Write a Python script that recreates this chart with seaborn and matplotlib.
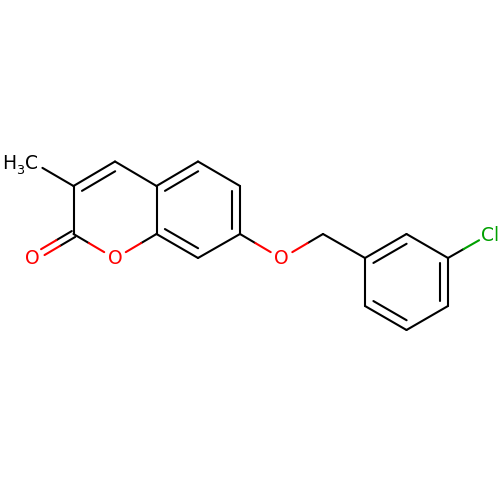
import numpy as np
import pandas as pd
import matplotlib
matplotlib.use("Agg")
import matplotlib.pyplot as plt
import seaborn as sns

# Atoms: 2D depiction coordinates of the molecule
atom_names = ["CH3", "C3", "C4", "C4a", "C5", "C6", "C7", "C8", "C8a", "O1", "C2", "O2",
              "O7", "CH2", "C1p", "C2p", "C3p", "C4p", "C5p", "C6p", "Cl"]
atom_x = [31.5, 73.5, 115, 156.5, 198, 240, 240, 198, 156.5, 115, 73.5, 32,
          281.5, 323, 365, 406.5, 448, 448, 406.5, 365, 490]
atom_y = [161.5, 186, 161.5, 186, 161.5, 186, 234, 258, 234, 258.5, 234, 258.5,
          258.5, 234, 258, 234, 258, 306, 330, 306, 234]

single_bonds = [("CH3", "C3"), ("C3", "C2"), ("C4", "C4a"), ("C4a", "C8a"), ("C5", "C6"),
                ("C7", "C8"), ("C8a", "O1"), ("O1", "C2"), ("C7", "O7"), ("O7", "CH2"),
                ("CH2", "C1p"), ("C2p", "C3p"), ("C4p", "C5p"), ("C6p", "C1p"), ("C3p", "Cl")]
ring_double_bonds = [("C3", "C4"), ("C4a", "C5"), ("C6", "C7"), ("C8", "C8a"),
                     ("C1p", "C2p"), ("C3p", "C4p"), ("C5p", "C6p")]
carbonyl_bond = ("C2", "O2")
rings = [["C3", "C4", "C4a", "C8a", "O1", "C2"],
         ["C4a", "C5", "C6", "C7", "C8", "C8a"],
         ["C1p", "C2p", "C3p", "C4p", "C5p", "C6p"]]

element_colours = {"O1": "#ff0000", "O2": "#ff0000", "O7": "#ff0000", "Cl": "#00a000"}
bond_black = "#000000"

pos = {n: np.array([x, y]) for n, x, y in zip(atom_names, atom_x, atom_y)}
labelled = set(element_colours) | {"CH3"}
GAP = 0.26        # bond fraction hidden behind an atom label
INNER = 8.5       # offset of the inner line of a ring double bond
TRIM = 0.10       # shortening of that inner line
PAIR = 3.4        # half spacing of the carbonyl lines

rows = []
seg = [0]


def add(p, q, colour):
    for pt in (p, q):
        rows.append({"x": pt[0], "y": pt[1], "seg": seg[0], "colour": colour})
    seg[0] += 1


def add_bond(a, b, shift=np.zeros(2), t0=None, t1=None):
    """Draw a bond, half in each end atom's colour, leaving room for labels."""
    pa, pb = pos[a] + shift, pos[b] + shift
    s = (GAP if a in labelled else 0.0) if t0 is None else t0
    e = (1 - GAP if b in labelled else 1.0) if t1 is None else t1
    start, end = pa + (pb - pa) * s, pa + (pb - pa) * e
    mid = (start + end) / 2
    ca = element_colours.get(a, bond_black)
    cb = element_colours.get(b, bond_black)
    if ca == cb:
        add(start, end, ca)
    else:
        add(start, mid, ca)
        add(mid, end, cb)


for a, b in single_bonds:
    add_bond(a, b)

for a, b in ring_double_bonds:
    add_bond(a, b)
    ring = next(r for r in rings if a in r and b in r)
    centre = np.mean([pos[n] for n in ring], axis=0)
    d = pos[b] - pos[a]
    n = np.array([-d[1], d[0]]) / np.hypot(*d)
    if np.dot(n, centre - pos[a]) < 0:
        n = -n
    add_bond(a, b, shift=n * INNER, t0=TRIM, t1=1 - TRIM)

a, b = carbonyl_bond
d = pos[b] - pos[a]
n = np.array([-d[1], d[0]]) / np.hypot(*d)
add_bond(a, b, shift=n * PAIR)
add_bond(a, b, shift=-n * PAIR)

segments = pd.DataFrame(rows)
palette = {c: c for c in segments["colour"].unique()}

fig = plt.figure(figsize=(5, 5), dpi=100)
ax = fig.add_axes([0, 0, 1, 1])
sns.lineplot(data=segments, x="x", y="y", units="seg", hue="colour", palette=palette,
             estimator=None, sort=False, legend=False, linewidth=1.5,
             solid_capstyle="round", ax=ax)
ax.set_xlim(0, 500)
ax.set_ylim(500, 0)
ax.axis("off")

FS = 13.5
for name, label in [("O1", "O"), ("O2", "O"), ("O7", "O")]:
    ax.text(pos[name][0], pos[name][1] + 0.5, label, color=element_colours[name], fontsize=FS,
            ha="center", va="center", family="DejaVu Sans")
ax.text(490.5, 235.5, "Cl", color=element_colours["Cl"], fontsize=FS, ha="center", va="center",
        family="DejaVu Sans")
ax.text(9.5, 163.5, "H", color=bond_black, fontsize=FS, ha="center", va="center", family="DejaVu Sans")
ax.text(20.5, 171, "3", color=bond_black, fontsize=FS * 0.68, ha="center", va="center", family="DejaVu Sans")
ax.text(32, 163.5, "C", color=bond_black, fontsize=FS, ha="center", va="center", family="DejaVu Sans")

fig.savefig("out.png", dpi=100, facecolor="white")
